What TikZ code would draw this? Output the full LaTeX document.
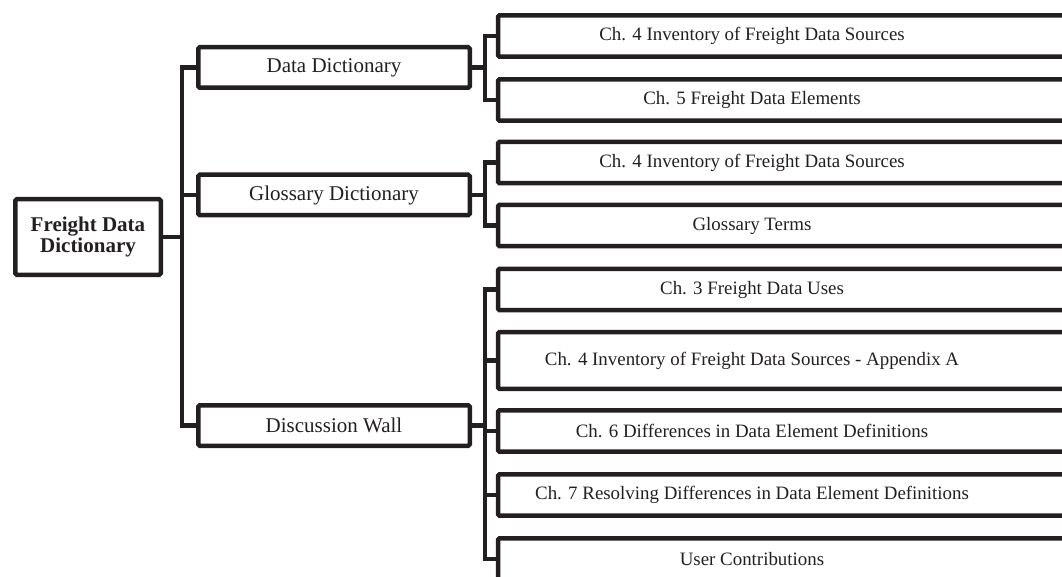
\documentclass[tikz,border=0pt]{standalone}
\usepackage{fontspec}
\setmainfont{Liberation Serif}
\usepackage{xcolor}
\definecolor{ink}{HTML}{231F20}
\tikzset{
	box/.style={draw=ink, line width=4.5pt, rounded corners=1.5pt, fill=white, inner sep=0pt, align=center, text=ink, font=\fontsize{21}{21}\selectfont},
	hub/.style={box, minimum width=145.5pt, minimum height=75.5pt, font=\bfseries\fontsize{21}{20.5}\selectfont},
	topic/.style={box, minimum width=271.5pt, minimum height=40.5pt},
	leaf/.style={inner sep=0pt, minimum height=41pt, text=ink, font=\fontsize{18.9}{20}\selectfont},
	wire/.style={draw=ink, line width=4.5pt}
}

\begin{document}
\begin{tikzpicture}[x=1pt,y=-1pt]
		\useasboundingbox (0,0) rectangle (1062,577);
		\clip (0,0) rectangle (1062,577);
		\coordinate (tx) at (182,0);
		\coordinate (bx) at (485,0);
		\coordinate (lx) at (498,0);
		\coordinate (rx) at (1080,0);

		\node [hub] (root) at (88,237) {Freight Data\\Dictionary};
		\node [topic] (dd) at (334,67.5) {Data Dictionary};
		\node [topic] (gl) at (334,195) {Glossary Dictionary};
		\node [topic] (dw) at (334,425.5) {Discussion Wall};

		\node [leaf] (dd1) at (752,36) {Ch. 4 Inventory of Freight Data Sources};
		\node [leaf] (dd2) at (752,100) {Ch. 5 Freight Data Elements};
		\node [leaf] (gl1) at (752,162.5) {Ch. 4 Inventory of Freight Data Sources};
		\node [leaf] (gl2) at (752,225.5) {Glossary Terms};
		\node [leaf] (dw1) at (752,289.5) {Ch. 3 Freight Data Uses};
		\node [leaf, minimum height=56.5pt] (dw2) at (752,360.5) {Ch. 4 Inventory of Freight Data Sources - Appendix A};
		\node [leaf] (dw3) at (752,431) {Ch. 6 Differences in Data Element Definitions};
		\node [leaf] (dw4) at (752,495) {Ch. 7 Resolving Differences in Data Element Definitions};
		\node [leaf] (dw5) at (752,559) {User Contributions};

		% leaf boxes run past the right edge
		\foreach \n in {dd1,dd2,gl1,gl2,dw1,dw2,dw3,dw4,dw5}
			\draw [wire, rounded corners=1.5pt] (\n.north -| lx) rectangle (\n.south -| rx);

		% trunk
		\draw [wire] (root.east) -- (root.east -| tx);
		\draw [wire] (dd.west) -| (tx |- dw) -- (dw.west);
		\draw [wire] (gl.west) -- (gl.west -| tx);

		% branches
		\draw [wire] (dd.east) -- (dd.east -| bx);
		\draw [wire] (dd1 -| lx) -| (bx |- dd2) -- (dd2 -| lx);
		\draw [wire] (gl.east) -- (gl.east -| bx);
		\draw [wire] (gl1 -| lx) -| (bx |- gl2) -- (gl2 -| lx);
		\draw [wire] (dw.east) -- (dw.east -| bx);
		\draw [wire] (dw1 -| lx) -| (bx |- dw5) -- (dw5 -| lx);
		\foreach \n in {dw2,dw3,dw4}
			\draw [wire] (\n -| bx) -- (\n -| lx);
	\end{tikzpicture}
\end{document}
